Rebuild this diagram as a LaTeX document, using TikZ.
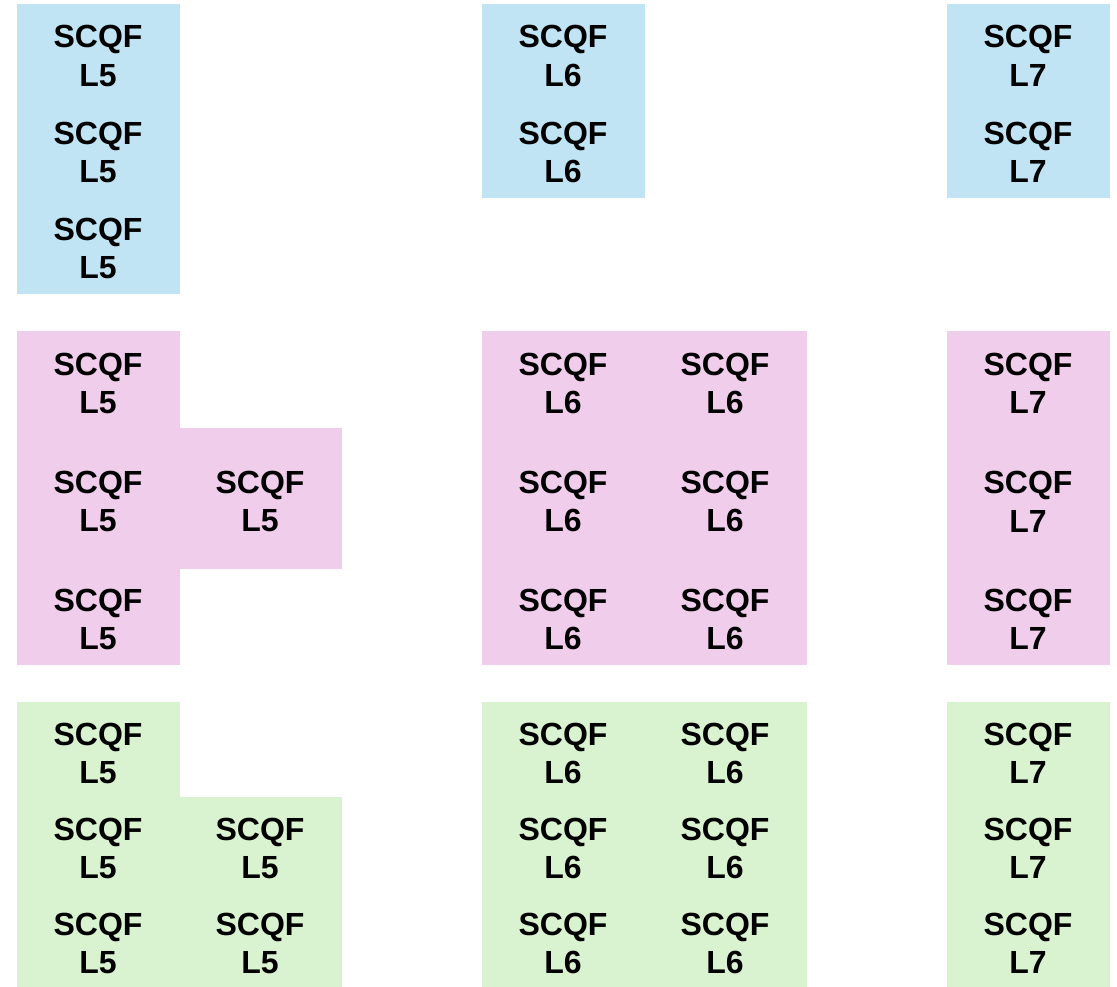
\documentclass[tikz,border=0pt]{standalone}
\usepackage{fontspec}
\setmainfont{Liberation Sans}
\usetikzlibrary{positioning}
\definecolor{lvlblue}{RGB}{192,228,244}
\definecolor{lvlpink}{RGB}{240,205,235}
\definecolor{lvlgreen}{RGB}{217,242,208}
% two-line level label, strut pushes the text a little lower in the cell
\newcommand{\scqf}[1]{\rule{0pt}{30pt}SCQF\\L#1}

\begin{document}
\begin{tikzpicture}[
    x=1pt, y=-1pt,
    cell/.style={fill=#1, draw=#1, line width=0.2pt, inner sep=0pt,
                 minimum width=162pt, align=center,
                 font=\fontsize{32}{38.4}\selectfont\bfseries}
]
    \useasboundingbox (0,0) rectangle (1117,987);

    % top band
    \foreach \y [count=\i] in {52.2,148.5,244.8}
        \node[cell=lvlblue, minimum height=96.3pt] (top5-\i) at (98,\y) {\scqf{5}};
    \foreach \y [count=\i] in {52.2,148.5}
        \node[cell=lvlblue, minimum height=96.3pt] (top6-\i) at (563,\y) {\scqf{6}};
    \foreach \y [count=\i] in {52.2,148.5}
        \node[cell=lvlblue, minimum height=96.3pt] (top7-\i) at (1028,\y) {\scqf{7}};

    % middle band
    \foreach \y/\h [count=\i] in {379.5/97,497.8/139.7,615.7/96}
        \node[cell=lvlpink, minimum height=\h pt] (mid5-\i) at (98,\y) {\scqf{5}};
    \node[cell=lvlpink, minimum height=139.7pt] (mid5-x) at (260,497.8) {\scqf{5}};
    \foreach \y/\h [count=\i] in {379.5/97,497.8/139.7,615.7/96} {
        \node[cell=lvlpink, minimum height=\h pt] (mid6-\i) at (563,\y) {\scqf{6}};
        \node[cell=lvlpink, minimum height=\h pt] (mid6b-\i) at (725,\y) {\scqf{6}};
        \node[cell=lvlpink, minimum height=\h pt] (mid7-\i) at (1028,\y) {\scqf{7}};
    }

    % bottom band
    \foreach \y [count=\i] in {749.5,844.5,939.5} {
        \node[cell=lvlgreen, minimum height=95pt] (low5-\i) at (98,\y) {\scqf{5}};
        \node[cell=lvlgreen, minimum height=95pt] (low6-\i) at (563,\y) {\scqf{6}};
        \node[cell=lvlgreen, minimum height=95pt] (low6b-\i) at (725,\y) {\scqf{6}};
        \node[cell=lvlgreen, minimum height=95pt] (low7-\i) at (1028,\y) {\scqf{7}};
    }
    \foreach \y [count=\i] in {844.5,939.5}
        \node[cell=lvlgreen, minimum height=95pt] (low5b-\i) at (260,\y) {\scqf{5}};
\end{tikzpicture}
\end{document}
